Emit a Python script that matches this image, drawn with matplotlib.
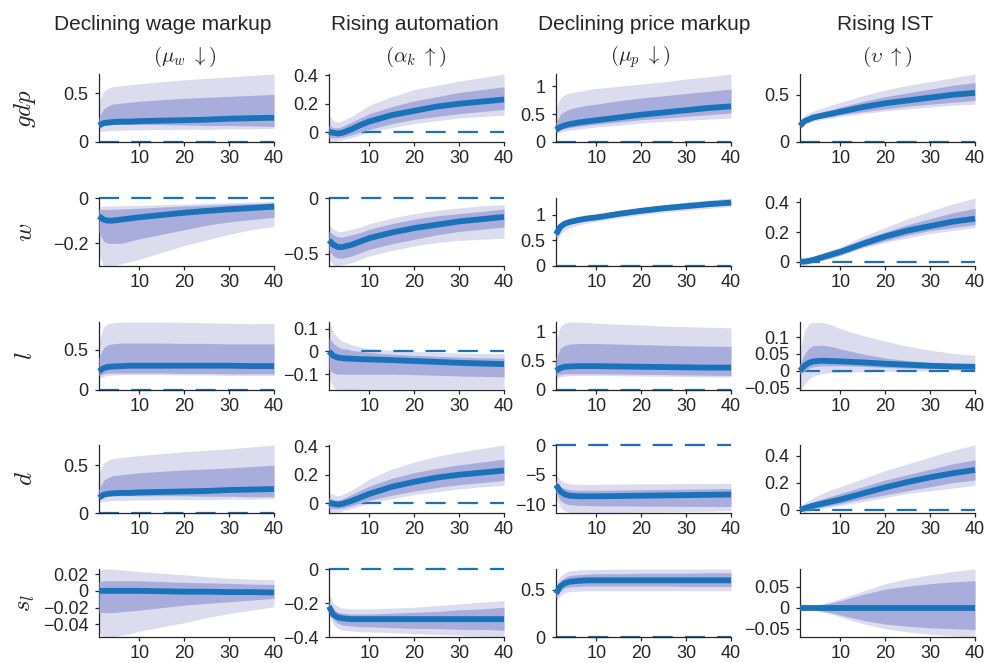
import numpy as np
import matplotlib
matplotlib.use("Agg")
import matplotlib.pyplot as plt
from matplotlib.ticker import FuncFormatter

plt.rcParams["font.family"] = ["Liberation Sans", "DejaVu Sans"]
plt.rcParams["mathtext.fontset"] = "cm"

# horizons (quarters) at which the responses were read
H = [1, 2, 3, 4, 6, 8, 10, 15, 20, 25, 30, 35, 40]

# each panel: median, inner band lo, inner band hi, outer band lo, outer band hi
GDP_WAGE = [
    [0.17, 0.195, 0.2, 0.205, 0.21, 0.21, 0.215, 0.22, 0.225, 0.23, 0.24, 0.245, 0.25],
    [0.15, 0.17, 0.175, 0.18, 0.18, 0.18, 0.18, 0.18, 0.175, 0.17, 0.17, 0.165, 0.16],
    [0.25, 0.34, 0.37, 0.39, 0.40, 0.41, 0.42, 0.435, 0.45, 0.46, 0.47, 0.48, 0.49],
    [0.11, 0.11, 0.115, 0.12, 0.12, 0.125, 0.125, 0.13, 0.13, 0.13, 0.135, 0.135, 0.14],
    [0.42, 0.52, 0.55, 0.57, 0.58, 0.59, 0.6, 0.62, 0.64, 0.655, 0.67, 0.685, 0.7],
]
GDP_AUTO = [
    [0.0, -0.005, -0.01, -0.005, 0.02, 0.05, 0.075, 0.12, 0.15, 0.18, 0.2, 0.215, 0.23],
    [-0.04, -0.04, -0.04, -0.035, -0.02, 0.0, 0.02, 0.06, 0.09, 0.11, 0.13, 0.145, 0.16],
    [0.05, 0.03, 0.03, 0.04, 0.07, 0.1, 0.13, 0.18, 0.22, 0.25, 0.28, 0.3, 0.32],
    [-0.07, -0.07, -0.06, -0.055, -0.04, -0.02, 0.0, 0.03, 0.06, 0.08, 0.1, 0.11, 0.12],
    [0.12, 0.08, 0.07, 0.08, 0.11, 0.15, 0.19, 0.25, 0.3, 0.33, 0.36, 0.385, 0.41],
]
GDP_PRICE = [
    [0.22, 0.27, 0.3, 0.32, 0.35, 0.37, 0.39, 0.44, 0.49, 0.53, 0.57, 0.61, 0.64],
    [0.18, 0.22, 0.24, 0.26, 0.28, 0.3, 0.32, 0.36, 0.4, 0.43, 0.46, 0.49, 0.52],
    [0.35, 0.5, 0.55, 0.59, 0.63, 0.66, 0.68, 0.74, 0.79, 0.83, 0.87, 0.91, 0.95],
    [0.15, 0.18, 0.2, 0.21, 0.23, 0.25, 0.27, 0.3, 0.34, 0.37, 0.39, 0.41, 0.43],
    [0.6, 0.8, 0.85, 0.88, 0.91, 0.94, 0.96, 1.0, 1.04, 1.08, 1.13, 1.17, 1.22],
]
GDP_IST = [
    [0.17, 0.22, 0.24, 0.26, 0.28, 0.3, 0.32, 0.37, 0.41, 0.44, 0.47, 0.5, 0.52],
    [0.16, 0.2, 0.22, 0.24, 0.26, 0.27, 0.29, 0.32, 0.35, 0.38, 0.4, 0.42, 0.44],
    [0.18, 0.25, 0.27, 0.29, 0.32, 0.34, 0.37, 0.43, 0.48, 0.52, 0.56, 0.6, 0.63],
    [0.15, 0.19, 0.21, 0.22, 0.24, 0.25, 0.27, 0.3, 0.33, 0.35, 0.37, 0.39, 0.4],
    [0.2, 0.28, 0.31, 0.33, 0.36, 0.39, 0.42, 0.49, 0.55, 0.6, 0.64, 0.68, 0.72],
]

W_WAGE = [
    [-0.08, -0.095, -0.1, -0.1, -0.095, -0.09, -0.085, -0.075, -0.065, -0.057, -0.05, -0.044, -0.038],
    [-0.15, -0.19, -0.2, -0.2, -0.2, -0.19, -0.18, -0.16, -0.14, -0.12, -0.105, -0.095, -0.085],
    [-0.05, -0.05, -0.05, -0.05, -0.048, -0.047, -0.045, -0.04, -0.035, -0.032, -0.028, -0.025, -0.022],
    [-0.25, -0.3, -0.3, -0.3, -0.29, -0.28, -0.27, -0.24, -0.21, -0.185, -0.16, -0.14, -0.125],
    [-0.04, -0.035, -0.035, -0.035, -0.034, -0.033, -0.032, -0.03, -0.027, -0.024, -0.021, -0.018, -0.015],
]
W_AUTO = [
    [-0.38, -0.42, -0.44, -0.44, -0.42, -0.39, -0.36, -0.31, -0.27, -0.24, -0.21, -0.19, -0.17],
    [-0.47, -0.52, -0.54, -0.54, -0.52, -0.49, -0.46, -0.41, -0.37, -0.33, -0.3, -0.28, -0.26],
    [-0.3, -0.33, -0.35, -0.35, -0.33, -0.31, -0.28, -0.23, -0.19, -0.16, -0.14, -0.12, -0.1],
    [-0.55, -0.6, -0.61, -0.6, -0.58, -0.55, -0.52, -0.47, -0.43, -0.4, -0.38, -0.37, -0.36],
    [-0.24, -0.28, -0.3, -0.3, -0.28, -0.26, -0.23, -0.18, -0.14, -0.11, -0.09, -0.07, -0.06],
]
W_PRICE = [
    [0.62, 0.77, 0.83, 0.86, 0.9, 0.93, 0.95, 1.02, 1.08, 1.13, 1.17, 1.21, 1.24],
    [0.56, 0.72, 0.78, 0.82, 0.86, 0.89, 0.92, 0.98, 1.04, 1.09, 1.13, 1.17, 1.2],
    [0.68, 0.81, 0.87, 0.89, 0.93, 0.96, 0.98, 1.05, 1.11, 1.16, 1.2, 1.24, 1.28],
    [0.45, 0.62, 0.7, 0.75, 0.8, 0.84, 0.87, 0.94, 1.0, 1.05, 1.09, 1.13, 1.16],
    [0.72, 0.85, 0.9, 0.92, 0.96, 0.99, 1.01, 1.08, 1.14, 1.2, 1.25, 1.29, 1.33],
]
W_IST = [
    [0.0, 0.0, 0.005, 0.012, 0.03, 0.048, 0.066, 0.12, 0.17, 0.21, 0.24, 0.27, 0.29],
    [0.0, -0.005, -0.005, 0.0, 0.01, 0.025, 0.045, 0.1, 0.14, 0.18, 0.21, 0.23, 0.25],
    [0.0, 0.005, 0.012, 0.022, 0.045, 0.066, 0.085, 0.15, 0.2, 0.25, 0.29, 0.33, 0.36],
    [-0.02, -0.03, -0.015, -0.005, 0.01, 0.025, 0.04, 0.09, 0.13, 0.16, 0.19, 0.21, 0.23],
    [0.0, 0.01, 0.02, 0.03, 0.055, 0.08, 0.1, 0.17, 0.23, 0.29, 0.34, 0.39, 0.43],
]

L_WAGE = [
    [0.23, 0.27, 0.285, 0.29, 0.295, 0.3, 0.3, 0.3, 0.3, 0.3, 0.3, 0.295, 0.295],
    [0.18, 0.2, 0.21, 0.21, 0.21, 0.21, 0.21, 0.21, 0.205, 0.205, 0.2, 0.2, 0.2],
    [0.4, 0.52, 0.56, 0.57, 0.58, 0.58, 0.58, 0.58, 0.575, 0.575, 0.57, 0.57, 0.57],
    [0.14, 0.17, 0.18, 0.185, 0.19, 0.19, 0.19, 0.19, 0.185, 0.185, 0.18, 0.18, 0.18],
    [0.6, 0.78, 0.82, 0.83, 0.84, 0.84, 0.84, 0.84, 0.835, 0.83, 0.825, 0.82, 0.82],
]
L_AUTO = [
    [0.0, -0.02, -0.027, -0.03, -0.032, -0.034, -0.035, -0.038, -0.042, -0.046, -0.05, -0.053, -0.056],
    [-0.08, -0.095, -0.1, -0.1, -0.1, -0.1, -0.1, -0.1, -0.102, -0.105, -0.108, -0.11, -0.112],
    [0.06, 0.035, 0.02, 0.012, 0.005, 0.0, -0.005, -0.012, -0.017, -0.021, -0.025, -0.028, -0.03],
    [-0.12, -0.16, -0.17, -0.17, -0.168, -0.166, -0.165, -0.165, -0.165, -0.165, -0.165, -0.165, -0.165],
    [0.13, 0.085, 0.06, 0.045, 0.03, 0.02, 0.013, 0.005, 0.0, -0.004, -0.007, -0.009, -0.01],
]
L_PRICE = [
    [0.33, 0.38, 0.4, 0.405, 0.41, 0.41, 0.41, 0.405, 0.4, 0.395, 0.39, 0.385, 0.385],
    [0.25, 0.27, 0.28, 0.28, 0.28, 0.28, 0.28, 0.275, 0.27, 0.265, 0.26, 0.255, 0.25],
    [0.55, 0.72, 0.77, 0.79, 0.8, 0.8, 0.8, 0.79, 0.78, 0.77, 0.76, 0.755, 0.75],
    [0.2, 0.23, 0.24, 0.245, 0.25, 0.25, 0.25, 0.245, 0.24, 0.235, 0.23, 0.225, 0.22],
    [0.85, 1.1, 1.15, 1.17, 1.17, 1.16, 1.15, 1.13, 1.12, 1.1, 1.09, 1.08, 1.07],
]
L_IST = [
    [0.0, 0.015, 0.024, 0.028, 0.03, 0.029, 0.028, 0.025, 0.021, 0.018, 0.015, 0.013, 0.012],
    [-0.01, 0.0, 0.008, 0.012, 0.015, 0.015, 0.015, 0.013, 0.01, 0.008, 0.006, 0.005, 0.004],
    [0.02, 0.05, 0.068, 0.075, 0.076, 0.072, 0.065, 0.05, 0.038, 0.03, 0.025, 0.022, 0.02],
    [-0.057, -0.04, -0.025, -0.015, -0.008, -0.005, -0.004, -0.003, -0.002, -0.001, 0.0, 0.0, 0.0],
    [0.06, 0.12, 0.14, 0.145, 0.143, 0.137, 0.125, 0.105, 0.088, 0.073, 0.061, 0.052, 0.046],
]

D_WAGE = [
    [0.16, 0.19, 0.2, 0.205, 0.21, 0.21, 0.215, 0.22, 0.225, 0.23, 0.24, 0.245, 0.25],
    [0.15, 0.17, 0.18, 0.18, 0.18, 0.18, 0.18, 0.18, 0.18, 0.175, 0.175, 0.17, 0.17],
    [0.25, 0.34, 0.37, 0.39, 0.4, 0.41, 0.42, 0.435, 0.45, 0.46, 0.47, 0.485, 0.5],
    [0.11, 0.12, 0.125, 0.13, 0.13, 0.135, 0.135, 0.14, 0.14, 0.14, 0.145, 0.145, 0.15],
    [0.42, 0.52, 0.55, 0.57, 0.58, 0.59, 0.6, 0.62, 0.64, 0.655, 0.67, 0.69, 0.71],
]
D_AUTO = [
    [0.0, -0.005, -0.01, -0.005, 0.015, 0.04, 0.065, 0.115, 0.15, 0.18, 0.2, 0.215, 0.23],
    [-0.04, -0.04, -0.04, -0.035, -0.02, 0.0, 0.02, 0.055, 0.085, 0.11, 0.13, 0.145, 0.16],
    [0.04, 0.025, 0.02, 0.03, 0.06, 0.09, 0.12, 0.175, 0.215, 0.245, 0.27, 0.29, 0.31],
    [-0.07, -0.07, -0.065, -0.055, -0.04, -0.02, 0.0, 0.03, 0.06, 0.08, 0.1, 0.115, 0.125],
    [0.075, 0.06, 0.05, 0.06, 0.09, 0.13, 0.17, 0.24, 0.29, 0.33, 0.36, 0.385, 0.41],
]
D_PRICE = [
    [-6.7, -7.8, -8.3, -8.5, -8.6, -8.6, -8.6, -8.55, -8.5, -8.45, -8.4, -8.35, -8.3],
    [-8.0, -9.3, -9.8, -10.0, -10.1, -10.15, -10.2, -10.2, -10.25, -10.25, -10.3, -10.3, -10.3],
    [-6.0, -7.0, -7.3, -7.5, -7.6, -7.6, -7.6, -7.55, -7.5, -7.45, -7.4, -7.35, -7.3],
    [-8.8, -10.5, -11.1, -11.3, -11.4, -11.4, -11.35, -11.3, -11.25, -11.2, -11.15, -11.1, -11.0],
    [-5.0, -5.9, -6.3, -6.5, -6.6, -6.6, -6.6, -6.55, -6.5, -6.5, -6.45, -6.45, -6.4],
]
D_IST = [
    [0.0, 0.01, 0.02, 0.03, 0.045, 0.06, 0.075, 0.12, 0.165, 0.205, 0.24, 0.27, 0.295],
    [0.0, -0.005, 0.0, 0.008, 0.02, 0.033, 0.045, 0.08, 0.11, 0.14, 0.17, 0.2, 0.22],
    [0.0, 0.03, 0.045, 0.06, 0.08, 0.1, 0.12, 0.17, 0.22, 0.26, 0.3, 0.34, 0.37],
    [0.0, -0.025, -0.01, 0.0, 0.01, 0.02, 0.03, 0.06, 0.09, 0.12, 0.14, 0.16, 0.18],
    [0.0, 0.05, 0.07, 0.09, 0.12, 0.15, 0.17, 0.23, 0.29, 0.34, 0.39, 0.44, 0.48],
]

SL_WAGE = [
    [0.0, 0.0, 0.0, 0.0, 0.0, 0.0, 0.0, -0.0005, -0.001, -0.001, -0.0015, -0.0015, -0.002],
    [-0.026, -0.026, -0.026, -0.026, -0.025, -0.024, -0.023, -0.02, -0.017, -0.015, -0.013, -0.011, -0.009],
    [0.011, 0.012, 0.012, 0.012, 0.012, 0.012, 0.012, 0.011, 0.01, 0.0095, 0.009, 0.008, 0.0075],
    [-0.05, -0.055, -0.055, -0.055, -0.053, -0.051, -0.048, -0.043, -0.038, -0.032, -0.027, -0.023, -0.019],
    [0.024, 0.026, 0.026, 0.026, 0.025, 0.024, 0.023, 0.021, 0.019, 0.017, 0.015, 0.014, 0.013],
]
SL_AUTO = [
    [-0.22, -0.27, -0.285, -0.29, -0.295, -0.295, -0.295, -0.295, -0.295, -0.295, -0.295, -0.295, -0.295],
    [-0.25, -0.3, -0.32, -0.33, -0.335, -0.34, -0.34, -0.345, -0.35, -0.35, -0.355, -0.355, -0.36],
    [-0.19, -0.24, -0.255, -0.26, -0.265, -0.265, -0.265, -0.26, -0.255, -0.25, -0.24, -0.235, -0.225],
    [-0.27, -0.33, -0.35, -0.36, -0.365, -0.37, -0.37, -0.375, -0.38, -0.385, -0.39, -0.395, -0.4],
    [-0.15, -0.2, -0.22, -0.23, -0.235, -0.235, -0.235, -0.23, -0.225, -0.215, -0.205, -0.195, -0.185],
]
SL_PRICE = [
    [0.46, 0.54, 0.57, 0.585, 0.595, 0.6, 0.6, 0.6, 0.6, 0.6, 0.6, 0.6, 0.6],
    [0.42, 0.49, 0.52, 0.53, 0.535, 0.54, 0.54, 0.54, 0.54, 0.54, 0.535, 0.535, 0.535],
    [0.5, 0.6, 0.63, 0.65, 0.66, 0.665, 0.67, 0.67, 0.675, 0.675, 0.675, 0.68, 0.68],
    [0.38, 0.44, 0.47, 0.48, 0.485, 0.49, 0.49, 0.49, 0.49, 0.49, 0.49, 0.49, 0.49],
    [0.56, 0.65, 0.68, 0.7, 0.71, 0.715, 0.715, 0.72, 0.72, 0.72, 0.72, 0.72, 0.72],
]
SL_IST = [
    [0.0, 0.0, 0.0, 0.0, 0.0, 0.0, 0.0, 0.0, 0.0, 0.0, 0.0, 0.0, 0.0],
    [0.0, 0.0, -0.002, -0.004, -0.008, -0.012, -0.017, -0.03, -0.039, -0.044, -0.048, -0.05, -0.052],
    [0.0, 0.0, 0.002, 0.004, 0.008, 0.012, 0.017, 0.032, 0.045, 0.052, 0.058, 0.062, 0.065],
    [0.0, 0.0, -0.002, -0.005, -0.01, -0.015, -0.022, -0.038, -0.05, -0.058, -0.063, -0.067, -0.07],
    [0.0, 0.0, 0.002, 0.005, 0.01, 0.015, 0.022, 0.04, 0.058, 0.07, 0.079, 0.087, 0.093],
]

PANELS = [
    [GDP_WAGE, GDP_AUTO, GDP_PRICE, GDP_IST],
    [W_WAGE, W_AUTO, W_PRICE, W_IST],
    [L_WAGE, L_AUTO, L_PRICE, L_IST],
    [D_WAGE, D_AUTO, D_PRICE, D_IST],
    [SL_WAGE, SL_AUTO, SL_PRICE, SL_IST],
]

YTICKS = [
    [[0, 0.5], [0, 0.2, 0.4], [0, 0.5, 1], [0, 0.5]],
    [[-0.2, 0], [-0.5, 0], [0, 0.5, 1], [0, 0.2, 0.4]],
    [[0, 0.5], [-0.1, 0, 0.1], [0, 0.5, 1], [-0.05, 0, 0.05, 0.1]],
    [[0, 0.5], [0, 0.2, 0.4], [-10, -5, 0], [0, 0.2, 0.4]],
    [[-0.04, -0.02, 0, 0.02], [-0.4, -0.2, 0], [0, 0.5], [-0.05, 0, 0.05]],
]

COL_TITLES = ["Declining wage markup", "Rising automation",
              "Declining price markup", "Rising IST"]
COL_SHOCKS = [r"$(\mu_w\;\downarrow)$", r"$(\alpha_k\;\uparrow)$",
              r"$(\mu_p\;\downarrow)$", r"$(\upsilon\;\uparrow)$"]
ROW_LABELS = [r"$gdp$", r"$w$", r"$l$", r"$d$", r"$s_l$"]

BLUE = "#1a72ba"
INNER = "#a8addb"
OUTER = "#dcdcef"
DARK = "#262626"

# layout in pixels
FW, FH = 989, 663
COL_LEFT = [99, 329, 556, 800]
ROW_TOP = [74, 198, 322, 445, 569]
AX_W, AX_H = 175, 68
TITLE_X = [163, 415, 644, 885]
SHOCK_X = [185, 416, 640, 887]


def fmt(v, pos):
    return f"{v:g}".replace("-", "\u2212")


fig = plt.figure(figsize=(FW / 100, FH / 100), dpi=100)

for i in range(5):
    for j in range(4):
        med, in_lo, in_hi, out_lo, out_hi = (np.array(a) for a in PANELS[i][j])
        ax = fig.add_axes([COL_LEFT[j] / FW, 1 - (ROW_TOP[i] + AX_H) / FH,
                           AX_W / FW, AX_H / FH])
        ax.fill_between(H, out_lo, out_hi, color=OUTER, lw=0, zorder=1)
        ax.plot([H[0], H[-1]], [0, 0], color=BLUE, lw=1.6, dashes=(9, 5.5),
                clip_on=False, zorder=2)
        ax.fill_between(H, in_lo, in_hi, color=INNER, lw=0, zorder=3)
        ax.plot(H, med, color=BLUE, lw=4.2, clip_on=False, zorder=4,
                solid_capstyle="butt")

        lo = min(out_lo.min(), med.min(), 0)
        hi = max(out_hi.max(), med.max(), 0)
        ax.set_ylim(lo, hi)
        ax.set_xlim(1, 40)
        ax.set_xticks([10, 20, 30, 40])
        ax.set_yticks(YTICKS[i][j])
        ax.yaxis.set_major_formatter(FuncFormatter(fmt))
        for s in ["top", "right"]:
            ax.spines[s].set_visible(False)
        for s in ["left", "bottom"]:
            ax.spines[s].set_color(DARK)
            ax.spines[s].set_linewidth(0.9)
        ax.tick_params(direction="out", length=3, width=0.9, colors=DARK,
                       labelsize=13)
        ax.tick_params(axis="x", pad=3)
        ax.tick_params(axis="y", pad=4.5)

for j in range(4):
    fig.text(TITLE_X[j] / FW, 1 - 24 / FH, COL_TITLES[j], ha="center",
             va="center", fontsize=15, color=DARK)
    fig.text(SHOCK_X[j] / FW, 1 - 57 / FH, COL_SHOCKS[j], ha="center",
             va="center", fontsize=15, color=DARK)

for i in range(5):
    fig.text(25 / FW, 1 - (ROW_TOP[i] + AX_H / 2) / FH, ROW_LABELS[i],
             rotation=90, ha="center", va="center", fontsize=18, color=DARK)

fig.savefig("out.png", dpi=100, facecolor="white")
